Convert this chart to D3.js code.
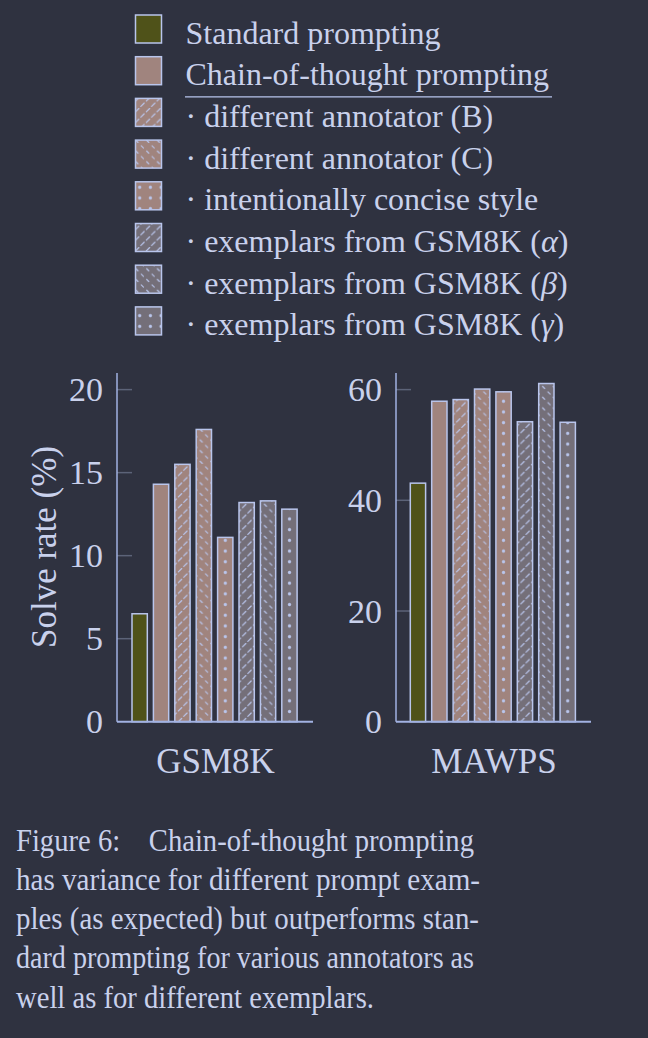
<!DOCTYPE html>
<html>
<head>
<meta charset="utf-8">
<script src="https://cdn.jsdelivr.net/npm/d3@7"></script>
<style>
  html, body { margin: 0; padding: 0; background: #2f3240; }
  svg { display: block; }
  text { font-family: "Liberation Serif", "DejaVu Serif", serif; fill: #c9d1ec; }
</style>
</head>
<body>
<div id="chart"></div>
<script>
// data
const methods = [
  "Standard prompting",
  "Chain-of-thought prompting",
  "· different annotator (B)",
  "· different annotator (C)",
  "· intentionally concise style",
  "· exemplars from GSM8K (α)",
  "· exemplars from GSM8K (β)",
  "· exemplars from GSM8K (γ)"
];
const datasets = ["GSM8K", "MAWPS"];
const gsm8kValues = [6.5, 14.3, 15.5, 17.6, 11.1, 13.2, 13.3, 12.8];
const mawpsValues = [43.1, 57.9, 58.2, 60.1, 59.6, 54.2, 61.1, 54.1];
const gsm8kTicks = [0, 5, 10, 15, 20];
const mawpsTicks = [0, 20, 40, 60];
const captionLines = [
  "Figure 6:\u2003Chain-of-thought prompting",
  "has variance for different prompt exam-",
  "ples (as expected) but outperforms stan-",
  "dard prompting for various annotators as",
  "well as for different exemplars."
];

// styles
const olive = "#4f5219", rose = "#a0847e", grey = "#746f79";
const baseFill = [olive, rose, rose, rose, rose, grey, grey, grey];
const overlay = [null, null, "slash", "back", "dots", "slash", "back", "dots"];
const lineCol = "#b9c5ec";
const axisCol = "#a2b2e2";
const tickCol = "#5c6378";

const W = 648, H = 1038;
const svg = d3.select("#chart").append("svg").attr("width", W).attr("height", H);
svg.append("rect").attr("width", W).attr("height", H).attr("fill", "#2f3240");

const defs = svg.append("defs");
const step = 10.7;
const slash = defs.append("pattern").attr("id", "slash").attr("patternUnits", "userSpaceOnUse")
  .attr("x", 134.3).attr("y", 0).attr("width", step).attr("height", step);
[[1.3, 4.8], [6.6, 10.15]].forEach(([x, y]) => {
  slash.append("line").attr("x1", x).attr("y1", y).attr("x2", x + 3.3).attr("y2", y - 3.3)
    .attr("stroke", lineCol).attr("stroke-width", 1.2).attr("stroke-linecap", "round");
});
const back = defs.append("pattern").attr("id", "back").attr("patternUnits", "userSpaceOnUse")
  .attr("x", 134.3).attr("y", 0).attr("width", step).attr("height", step);
[[1.6, 1.2], [7.0, 6.6]].forEach(([x, y]) => {
  back.append("line").attr("x1", x).attr("y1", y).attr("x2", x + 2.2).attr("y2", y + 2.2)
    .attr("stroke", lineCol).attr("stroke-width", 1.1).attr("stroke-linecap", "round");
});
const dots = defs.append("pattern").attr("id", "dots").attr("patternUnits", "userSpaceOnUse")
  .attr("x", 134.35).attr("y", 0).attr("width", step).attr("height", step);
dots.append("circle").attr("cx", step / 2).attr("cy", step / 2).attr("r", 1.6).attr("fill", lineCol);

// legend
const legend = svg.append("g");
const legY = d3.scaleBand().domain(methods).range([15, 15 + 41.7 * 8]);
methods.forEach((m, i) => {
  const y = legY(m);
  legend.append("rect").attr("x", 135.5).attr("y", y).attr("width", 26).attr("height", 28)
    .attr("fill", baseFill[i]).attr("stroke", lineCol).attr("stroke-width", 1.5);
  if (overlay[i]) {
    legend.append("rect").attr("x", 135.5).attr("y", y).attr("width", 26).attr("height", 28)
      .attr("fill", `url(#${overlay[i]})`);
  }
  const t = legend.append("text").attr("x", 185.5).attr("y", y + 28.5).attr("font-size", 32);
  const greek = m.match(/\((α|β|γ)\)$/);
  if (greek) {
    t.append("tspan").text(m.slice(0, -3) + "(");
    t.append("tspan").attr("font-style", "italic").text(greek[1]);
    t.append("tspan").text(")");
  } else {
    t.text(m);
  }
});
legend.append("line").attr("x1", 185).attr("x2", 552).attr("y1", 96.8).attr("y2", 96.8)
  .attr("stroke", lineCol).attr("stroke-width", 1.3);

// panels
const panels = [
  { name: datasets[0], values: gsm8kValues, ticks: gsm8kTicks, max: 21, ax: 117, right: 313, bx: 132 },
  { name: datasets[1], values: mawpsValues, ticks: mawpsTicks, max: 63, ax: 396, right: 591, bx: 410.3 }
];
const y0 = 721.7, yTop = 373;

panels.forEach(p => {
  const g = svg.append("g");
  const y = d3.scaleLinear().domain([0, p.max]).range([y0, yTop]);
  const x = d3.scaleBand().domain(methods).range([p.bx, p.bx + 21.4 * (8 - 0.285)])
    .paddingInner(0.285).paddingOuter(0);

  // tick marks
  g.selectAll(".tk").data(p.ticks.filter(d => d > 0)).enter().append("line")
    .attr("x1", p.ax).attr("x2", p.ax + 15)
    .attr("y1", d => y(d)).attr("y2", d => y(d))
    .attr("stroke", tickCol).attr("stroke-width", 1.5);
  g.selectAll(".tl").data(p.ticks).enter().append("text")
    .attr("x", p.ax - 14).attr("y", d => y(d) + 11.5)
    .attr("text-anchor", "end").attr("font-size", 34)
    .text(d => d);

  // bars
  methods.forEach((m, i) => {
    const v = p.values[i];
    g.append("rect").attr("x", x(m)).attr("y", y(v)).attr("width", x.bandwidth()).attr("height", y0 - y(v))
      .attr("fill", baseFill[i]).attr("stroke", lineCol).attr("stroke-width", 1.5);
    if (overlay[i]) {
      g.append("rect").attr("x", x(m)).attr("y", y(v)).attr("width", x.bandwidth()).attr("height", y0 - y(v))
        .attr("fill", `url(#${overlay[i]})`);
    }
  });

  // axis lines
  g.append("line").attr("x1", p.ax).attr("x2", p.ax).attr("y1", yTop).attr("y2", y0)
    .attr("stroke", axisCol).attr("stroke-width", 1.5);
  g.append("line").attr("x1", p.ax).attr("x2", p.right).attr("y1", y0).attr("y2", y0)
    .attr("stroke", axisCol).attr("stroke-width", 2);

  g.append("text").attr("x", (p.ax + p.right) / 2 + 0.5).attr("y", 773)
    .attr("text-anchor", "middle").attr("font-size", 35).text(p.name);
});

svg.append("text").attr("transform", "translate(56,547) rotate(-90)")
  .attr("text-anchor", "middle").attr("font-size", 35).text("Solve rate (%)");

// caption
const capWidths = [458, 464, 463, 458, 358];
captionLines.forEach((l, i) => {
  svg.append("text").attr("x", 16).attr("y", 850.5 + i * 39.3)
    .attr("font-size", 32.5).attr("textLength", capWidths[i]).attr("lengthAdjust", "spacingAndGlyphs")
    .text(l);
});
</script>
</body>
</html>
